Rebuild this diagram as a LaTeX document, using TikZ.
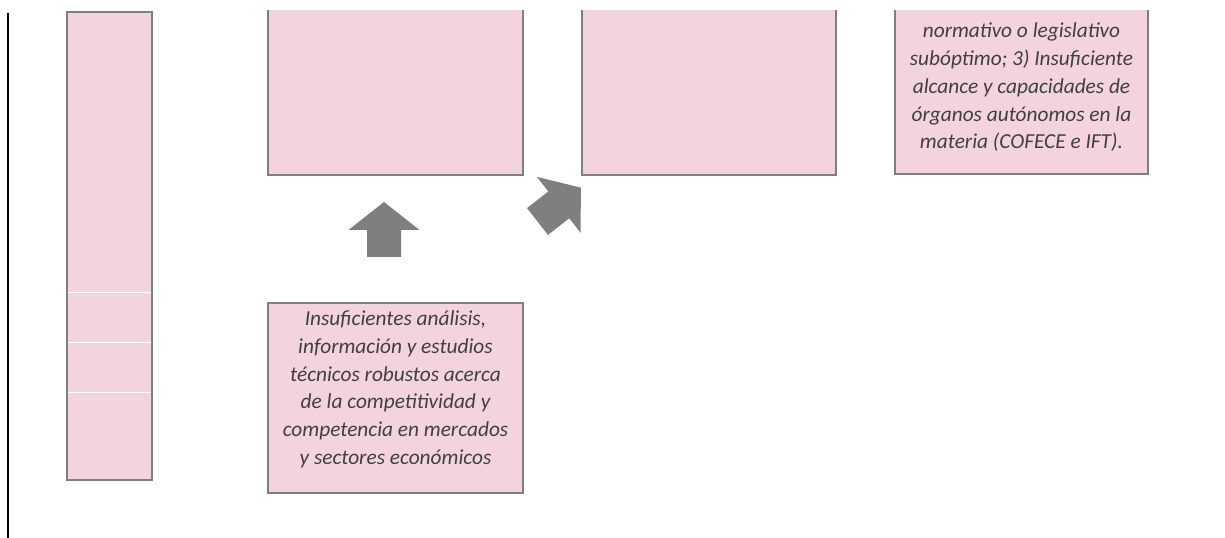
\documentclass[tikz,border=0pt]{standalone}
\usepackage{fontspec}
\setmainfont{Carlito}
\usepackage{tikz}
\usetikzlibrary{positioning}
\definecolor{cajarosa}{HTML}{F2D3DE}
\definecolor{bordegris}{HTML}{7F7F7F}
\definecolor{textogris}{HTML}{404040}

\begin{document}
\begin{tikzpicture}[
        x=0.75pt, y=0.75pt, % 1 unidad = 1 px de la figura
        caja/.style={draw=bordegris, line width=1.1pt, fill=cajarosa,
          inner sep=0pt, outer sep=0pt}, % Estilo para las cajas
        texto/.style={text=textogris, font=\fontsize{16}{20.8}\selectfont\itshape,
          align=center, inner sep=0pt}, % Estilo para los textos
        pics/flechagruesa/.style={code={
          \fill[bordegris] (0,-17) -- (27,-17) -- (27,-35.5) -- (55,0)
            -- (27,35.5) -- (27,17) -- (0,17) -- cycle;}}, % Flecha de bloque
    ]
        \useasboundingbox (0,0) rectangle (1225,538);
        \clip (-5,-5) rectangle (1230,527);

        % --- Linea vertical a la izquierda ---
        \coordinate (lineaarriba) at (8,525);
        \coordinate (lineaabajo) at (8,-2);
        \draw[line width=1.5pt] (lineaarriba) -- (lineaabajo);

        % --- Caja alta ---
        \node[caja, minimum width=85*0.75pt, minimum height=468*0.75pt] (alta) at (109.5,292) {};
        \foreach \yy in {246,196,146}
          \draw[white, line width=0.3pt] ([xshift=1pt]alta.west |- 0,\yy) -- ([xshift=-1pt]alta.east |- 0,\yy);

        % --- Cajas de arriba (cortadas) ---
        \node[caja, minimum width=255*0.75pt, minimum height=200*0.75pt] (efecto) at (395.5,463) {};
        \node[caja, minimum width=254*0.75pt, minimum height=200*0.75pt] (problema) at (709,463) {};
        \node[caja, minimum width=253*0.75pt, minimum height=181*0.75pt] (causas) at (1021.5,454.5) {};
        \node[texto] (causastexto) at ([yshift=-3pt]causas.center) {normativo o legislativo\\subóptimo; 3) Insuficiente\\alcance y capacidades de\\órganos autónomos en la\\materia (COFECE e IFT).};

        % --- Caja de abajo ---
        \node[caja, minimum width=255*0.75pt, minimum height=190*0.75pt] (analisis) at (395.5,140) {};
        \node[texto] (analisistexto) at ([yshift=6.5pt]analisis.center) {Insuficientes análisis,\\información y estudios\\técnicos robustos acerca\\de la competitividad y\\competencia en mercados\\y sectores económicos};

        % --- Flechas ---
        \pic[rotate=90] at (384,281) {flechagruesa};
        \pic[rotate=38] at (537.5,316.5) {flechagruesa};
    \end{tikzpicture}
\end{document}
